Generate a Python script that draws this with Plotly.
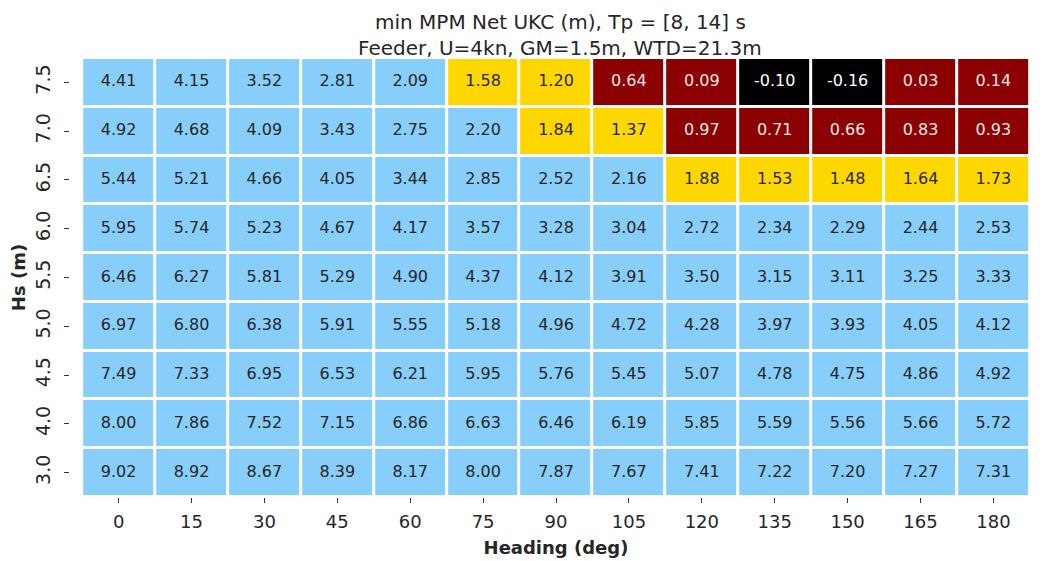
import numpy as np
import plotly.graph_objects as go

headings = ["0", "15", "30", "45", "60", "75", "90", "105", "120", "135", "150", "165", "180"]
hs_levels = ["7.5", "7.0", "6.5", "6.0", "5.5", "5.0", "4.5", "4.0", "3.0"]

ukc_75 = [4.41, 4.15, 3.52, 2.81, 2.09, 1.58, 1.20, 0.64, 0.09, -0.10, -0.16, 0.03, 0.14]
ukc_70 = [4.92, 4.68, 4.09, 3.43, 2.75, 2.20, 1.84, 1.37, 0.97, 0.71, 0.66, 0.83, 0.93]
ukc_65 = [5.44, 5.21, 4.66, 4.05, 3.44, 2.85, 2.52, 2.16, 1.88, 1.53, 1.48, 1.64, 1.73]
ukc_60 = [5.95, 5.74, 5.23, 4.67, 4.17, 3.57, 3.28, 3.04, 2.72, 2.34, 2.29, 2.44, 2.53]
ukc_55 = [6.46, 6.27, 5.81, 5.29, 4.90, 4.37, 4.12, 3.91, 3.50, 3.15, 3.11, 3.25, 3.33]
ukc_50 = [6.97, 6.80, 6.38, 5.91, 5.55, 5.18, 4.96, 4.72, 4.28, 3.97, 3.93, 4.05, 4.12]
ukc_45 = [7.49, 7.33, 6.95, 6.53, 6.21, 5.95, 5.76, 5.45, 5.07, 4.78, 4.75, 4.86, 4.92]
ukc_40 = [8.00, 7.86, 7.52, 7.15, 6.86, 6.63, 6.46, 6.19, 5.85, 5.59, 5.56, 5.66, 5.72]
ukc_30 = [9.02, 8.92, 8.67, 8.39, 8.17, 8.00, 7.87, 7.67, 7.41, 7.22, 7.20, 7.27, 7.31]

title_lines = ["min MPM Net UKC (m), Tp = [8, 14] s", "Feeder, U=4kn, GM=1.5m, WTD=21.3m"]

# UKC class limits (m) and the colour of each class
limits = [0.0, 1.0, 2.0]
class_colors = ["#000000", "#8B0000", "#FFD700", "#87CEFA"]
class_text = ["#ffffff", "#f2e6e6", "#262626", "#262626"]

ukc = np.array([ukc_75, ukc_70, ukc_65, ukc_60, ukc_55, ukc_50, ukc_45, ukc_40, ukc_30])
cls = np.digitize(ukc, limits)

n = len(class_colors)
colorscale = []
for i, c in enumerate(class_colors):
    colorscale.append([i / n, c])
    colorscale.append([(i + 1) / n, c])

fig = go.Figure()
fig.add_trace(go.Heatmap(
    z=cls, x=headings, y=hs_levels,
    colorscale=colorscale, zmin=-0.5, zmax=n - 0.5,
    showscale=False, xgap=3, ygap=3, hoverinfo="skip",
))

tx, ty, tt, tc = [], [], [], []
for r, hs in enumerate(hs_levels):
    for c, hd in enumerate(headings):
        tx.append(hd)
        ty.append(hs)
        tt.append(f"{ukc[r, c]:.2f}")
        tc.append(class_text[cls[r, c]])

fig.add_trace(go.Scatter(
    x=tx, y=ty, text=tt, mode="text",
    textfont=dict(family="DejaVu Sans", size=16, color=tc),
    hoverinfo="skip", showlegend=False,
))

# two-line title, placed in pixels above the grid
for k, (line, ypix) in enumerate(zip(title_lines, [22, 48])):
    fig.add_annotation(
        text=line, xref="paper", yref="paper",
        x=(560 - 70) / 972, y=1 + (58 - ypix) / 439,
        xanchor="center", yanchor="middle", showarrow=False,
        font=dict(family="DejaVu Sans", size=20, color="#262626"),
    )

fig.update_layout(
    width=1042, height=561,
    margin=dict(l=70, r=0, t=58, b=64),
    paper_bgcolor="white", plot_bgcolor="white",
    font=dict(family="DejaVu Sans", color="#262626"),
    xaxis=dict(
        type="category", categoryorder="array", categoryarray=headings,
        showgrid=False, zeroline=False, showline=False, automargin=False,
        ticks="outside", ticklen=5, tickwidth=1.3, tickcolor="#333333",
        ticklabelstandoff=3,
        tickfont=dict(size=18, color="#262626"),
        title=dict(text="<b>Heading (deg)</b>", font=dict(size=18, color="#262626"), standoff=10),
    ),
    yaxis=dict(
        type="category", categoryorder="array", categoryarray=hs_levels[::-1],
        showgrid=False, zeroline=False, showline=False, automargin=False,
        ticks="outside", ticklen=5, tickwidth=1.3, tickcolor="#333333",
        tickangle=-90, ticklabelstandoff=6,
        tickfont=dict(size=19, color="#262626"),
        title=dict(text="<b>Hs (m)</b>", font=dict(size=18, color="#262626"), standoff=2),
    ),
)

fig.write_html("out.html")
